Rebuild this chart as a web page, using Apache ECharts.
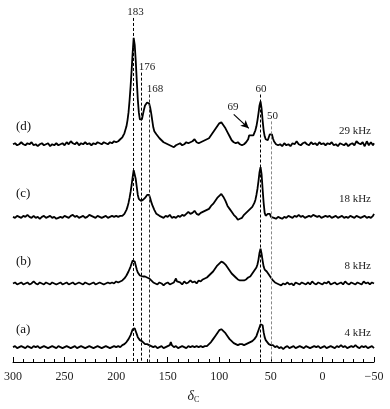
<!DOCTYPE html>
<html><head><meta charset="utf-8">
<script src="https://cdn.jsdelivr.net/npm/echarts@6/dist/echarts.min.js"></script>
<style>html,body{margin:0;padding:0;background:#fff}#c{width:390px;height:409px}</style>
</head><body><div id="c"></div>
<script>
// [chemical shift δC (ppm), intensity above own baseline]
const traceA = [[300,0],[298,1],[296,-1],[294,0],[292,1],[290,0],[288,-1],[286,1],[284,0],[282,-1],[280,1],[278,0],[276,1],[274,-1],[272,0],[270,1],[268,0],[266,-1],[264,0],[262,1],[260,0],[258,-1],[256,1],[254,0],[252,-1],[250,0],[248,1],[246,0],[244,-1],[242,0],[240,1],[238,-1],[236,0],[234,1],[232,0],[230,-1],[228,0],[226,1],[224,0],[222,-1],[220,0],[218,1],[216,0],[214,-1],[212,0],[210,1],[208,0],[206,-1],[204,0],[202,1],[200,0],[198,1],[196,0],[194,2],[192,3],[190,5],[189,6],[188,8],[187,10],[186,12],[185,15],[184,18],[183,20],[182,19],[181,16],[180,13],[179,10],[178,8],[177,7],[176,7],[175,6],[174,5],[172,3],[170,3],[168,2],[166,1],[164,0],[162,1],[160,-1],[158,0],[156,1],[154,-1],[152,0],[150,1],[148,2],[147,5],[146,2],[144,0],[142,1],[140,-1],[138,0],[136,1],[134,0],[132,-1],[130,1],[128,0],[126,1],[124,0],[122,1],[120,0],[118,1],[116,0],[114,1],[112,1],[110,3],[108,5],[106,8],[104,11],[102,14],[100,17],[98,18],[96,16],[94,14],[92,11],[90,8],[88,6],[86,4],[84,3],[82,2],[80,3],[78,3],[76,2],[74,3],[72,4],[70,5],[68,6],[66,8],[64,11],[63,14],[62,17],[61,20],[60,23],[59,25],[58,22],[57,15],[56,10],[55,7],[54,5],[52,3],[50,2],[48,2],[46,0],[44,1],[42,-1],[40,0],[38,-2],[36,0],[34,1],[32,-1],[30,0],[28,1],[26,-1],[24,0],[22,1],[20,0],[18,-1],[16,1],[14,0],[12,-1],[10,0],[8,1],[6,0],[4,1],[2,-1],[0,0],[-2,1],[-4,-1],[-6,0],[-8,1],[-10,0],[-12,-1],[-14,1],[-16,0],[-18,2],[-20,0],[-22,1],[-24,-1],[-26,0],[-28,1],[-30,0],[-32,2],[-34,0],[-36,-1],[-38,1],[-40,0],[-42,1],[-44,-1],[-46,0],[-48,1],[-50,-1]];
const traceB = [[300,0],[298,1],[296,-1],[294,0],[292,1],[290,-1],[288,0],[286,1],[284,-1],[282,0],[280,2],[278,0],[276,-1],[274,1],[272,0],[270,-1],[268,1],[266,0],[264,-1],[262,1],[260,0],[258,-1],[256,0],[254,1],[252,-1],[250,0],[248,1],[246,-1],[244,0],[242,1],[240,-1],[238,0],[236,1],[234,0],[232,-1],[230,1],[228,0],[226,-1],[224,0],[222,1],[220,-1],[218,0],[216,1],[214,0],[212,-1],[210,0],[208,1],[206,0],[204,1],[202,0],[200,2],[198,1],[196,2],[194,3],[192,5],[190,8],[189,10],[188,12],[187,14],[186,17],[185,20],[184,23],[183,25],[182,22],[181,18],[180,14],[179,11],[178,9],[177,8],[176,7],[174,7],[172,7],[170,6],[168,5],[166,3],[164,1],[162,0],[160,-1],[158,1],[156,0],[154,-2],[152,0],[150,1],[148,-1],[146,0],[144,1],[142,5],[141,2],[140,0],[138,1],[136,-1],[134,2],[132,0],[130,1],[128,3],[126,1],[124,2],[122,0],[120,3],[118,2],[116,4],[114,5],[112,6],[110,8],[108,10],[106,12],[104,15],[102,18],[100,20],[98,22],[96,21],[94,19],[92,16],[90,13],[88,10],[86,8],[84,6],[82,4],[80,3],[78,3],[76,3],[74,4],[72,6],[70,7],[68,10],[66,13],[64,16],[63,19],[62,24],[61,31],[60,35],[59,30],[58,23],[57,17],[56,14],[54,12],[52,9],[50,6],[48,3],[46,1],[44,0],[42,-1],[40,-2],[38,0],[36,-1],[34,1],[32,-1],[30,0],[28,-2],[26,1],[24,0],[22,-1],[20,1],[18,0],[16,-1],[14,1],[12,-1],[10,2],[8,0],[6,-1],[4,1],[2,0],[0,-1],[-2,1],[-4,0],[-6,2],[-8,-1],[-10,0],[-12,1],[-14,-1],[-16,0],[-18,1],[-20,-1],[-22,2],[-24,0],[-26,-1],[-28,1],[-30,0],[-32,-1],[-34,1],[-36,0],[-38,-1],[-40,2],[-42,0],[-44,1],[-46,-1],[-48,1],[-50,0]];
const traceC = [[300,0],[298,-1],[296,1],[294,0],[292,-1],[290,1],[288,0],[286,2],[284,0],[282,-1],[280,1],[278,-1],[276,0],[274,-2],[272,0],[270,1],[268,-1],[266,0],[264,1],[262,-1],[260,0],[258,-2],[256,-1],[254,0],[252,-1],[250,1],[248,0],[246,-1],[244,1],[242,2],[240,0],[238,1],[236,-1],[234,0],[232,1],[230,-1],[228,0],[226,2],[224,1],[222,0],[220,-1],[218,1],[216,0],[214,-1],[212,0],[210,1],[208,-1],[206,0],[204,1],[202,0],[200,1],[198,0],[196,1],[194,1],[192,3],[190,7],[189,10],[188,14],[187,19],[186,25],[185,32],[184,40],[183,47],[182,46],[181,38],[180,30],[179,22],[178,18],[177,16],[176,16],[175,16],[174,17],[173,18],[172,19],[171,21],[170,22],[169,23],[168,22],[167,19],[166,15],[165,12],[164,10],[163,7],[162,5],[161,3],[160,2],[158,1],[156,0],[154,-1],[152,1],[150,0],[148,2],[146,-1],[144,0],[142,-1],[140,1],[138,0],[136,2],[134,1],[132,3],[130,5],[128,3],[126,4],[124,6],[122,3],[120,2],[118,4],[116,5],[114,6],[112,7],[110,8],[108,11],[106,13],[104,16],[102,19],[100,21],[98,23],[97,22],[96,20],[94,16],[92,11],[90,8],[88,5],[86,2],[84,0],[82,-3],[80,-2],[78,-1],[76,2],[74,4],[72,6],[70,8],[68,10],[66,14],[65,17],[64,22],[63,28],[62,36],[61,45],[60,50],[59,43],[58,28],[57,14],[56,4],[55,1],[54,1],[53,3],[52,5],[51,3],[50,0],[49,-2],[47,-1],[45,-2],[43,0],[41,-1],[39,-2],[37,0],[35,-1],[33,1],[31,0],[29,-1],[27,1],[25,0],[23,2],[21,0],[19,1],[17,-1],[15,0],[13,1],[11,0],[9,2],[7,1],[5,0],[3,1],[1,-1],[-1,0],[-3,1],[-5,0],[-7,1],[-9,-1],[-11,0],[-13,1],[-15,-1],[-17,0],[-19,1],[-21,-1],[-23,0],[-25,-1],[-27,1],[-29,0],[-31,-1],[-33,1],[-35,0],[-37,-1],[-39,0],[-41,1],[-43,-1],[-45,0],[-47,-1],[-49,1],[-50,3]];
const traceD = [[300,0],[298,1],[296,-1],[294,0],[292,2],[290,0],[288,-1],[286,1],[284,0],[282,2],[280,-1],[278,0],[276,-2],[274,0],[272,1],[270,-1],[268,0],[266,1],[264,-2],[262,0],[260,-1],[258,1],[256,-1],[254,0],[252,1],[250,-1],[248,2],[246,0],[244,3],[242,1],[240,0],[238,2],[236,-1],[234,1],[232,0],[230,2],[228,0],[226,1],[224,-1],[222,1],[220,0],[218,2],[216,1],[214,0],[212,2],[210,1],[208,0],[206,2],[204,1],[202,3],[200,2],[198,3],[196,5],[194,7],[192,11],[190,18],[189,24],[188,32],[187,44],[186,58],[185,74],[184,92],[183,107],[182,100],[181,84],[180,64],[179,45],[178,32],[177,25],[176,23],[175,25],[174,30],[173,35],[172,39],[171,41],[170,42],[169,42],[168,41],[167,37],[166,31],[165,24],[164,17],[163,13],[162,11],[161,10],[160,8],[158,6],[156,4],[154,2],[152,1],[150,0],[148,-1],[146,-2],[144,-3],[142,-1],[140,0],[138,1],[136,-1],[134,0],[132,2],[130,1],[128,2],[126,3],[124,5],[122,2],[120,1],[118,2],[116,3],[114,4],[112,5],[110,6],[108,9],[106,12],[104,15],[102,18],[100,21],[99,22],[98,22],[97,21],[96,19],[94,16],[92,12],[90,8],[88,4],[86,2],[84,1],[82,2],[80,0],[78,-1],[76,0],[74,2],[72,5],[71,9],[70,10],[69,9],[68,8],[67,9],[66,11],[65,14],[64,18],[63,24],[62,31],[61,39],[60,43],[59,36],[58,24],[57,14],[56,8],[55,5],[54,3],[53,4],[52,7],[51,10],[50,12],[49,10],[48,6],[47,3],[46,1],[45,0],[43,-1],[41,0],[39,-2],[37,1],[35,-1],[33,0],[31,-2],[29,1],[27,0],[25,3],[23,0],[21,-1],[19,1],[17,2],[15,0],[13,-1],[11,2],[9,0],[7,1],[5,-1],[3,2],[1,0],[-1,1],[-3,-1],[-5,1],[-7,0],[-9,2],[-11,-1],[-13,0],[-15,-2],[-17,1],[-19,0],[-21,-1],[-23,1],[-25,-2],[-27,0],[-29,1],[-31,-1],[-33,3],[-35,1],[-37,0],[-39,2],[-41,-2],[-43,3],[-45,-1],[-47,2],[-49,-1],[-50,1]];

const traces = [traceA, traceB, traceC, traceD];
const traceOffsets = [15, 79, 146, 219];
const traceNames = ['(a)', '(b)', '(c)', '(d)'];
const spinRates = ['4 kHz', '8 kHz', '18 kHz', '29 kHz'];
const peakShifts = [183, 176, 168, 60, 50];
const peakLabels = ['183', '176', '168', '60', '50'];
const peakLineTops = [346, 291, 269, 269, 242];
const arrowLabel = '69';
const arrowFrom = [86, 249];
const arrowTo = [71.4, 235];

const FONT = '"Liberation Serif","Times New Roman",serif';
const chart = echarts.init(document.getElementById('c'), null, {renderer: 'canvas'});

const lineColors = ['#000', '#000', '#333', '#000', '#888'];
const series = traces.map((t, i) => ({
  type: 'line', name: traceNames[i], showSymbol: false, symbol: 'none',
  data: t.map(p => [p[0], p[1] + traceOffsets[i]]),
  lineStyle: {color: '#000', width: 1.8}, z: 3, silent: true
}));
series.push({
  type: 'line', data: [], silent: true,
  markLine: {
    silent: true, symbol: ['none', 'none'], animation: false,
    label: {show: false},
    data: peakShifts.map((s, i) => [
      {coord: [s, peakLineTops[i]], lineStyle: {color: lineColors[i], type: [3, 2], width: 1}},
      {coord: [s, 0]}
    ]).concat([[
      {coord: arrowFrom, lineStyle: {color: '#000', type: 'solid', width: 1.2}, symbol: 'none'},
      {coord: arrowTo, symbol: 'arrow', symbolSize: [6, 8]}
    ]])
  }
});

const labelPx = [[135.5, 12], [147, 67], [155, 89], [261, 89], [272.5, 116]];
const graphics = [];
peakLabels.forEach((t, i) => graphics.push({type: 'text', x: labelPx[i][0], y: labelPx[i][1],
  style: {text: t, font: '11px ' + FONT, fill: '#222', textAlign: 'center', textVerticalAlign: 'middle'}}));
graphics.push({type: 'text', x: 233, y: 107, style: {text: arrowLabel, font: '11px ' + FONT, fill: '#222', textAlign: 'center', textVerticalAlign: 'middle'}});
const nameY = [330, 262, 194, 127];
const rateY = [333, 266, 199, 131];
traceNames.forEach((t, i) => graphics.push({type: 'text', x: 16, y: nameY[i],
  style: {text: t, font: '13px ' + FONT, fill: '#111', textAlign: 'left', textVerticalAlign: 'middle'}}));
spinRates.forEach((t, i) => graphics.push({type: 'text', x: 371, y: rateY[i],
  style: {text: t, font: '11px ' + FONT, fill: '#222', textAlign: 'right', textVerticalAlign: 'middle'}}));

chart.setOption({
  animation: false,
  backgroundColor: '#fff',
  grid: {left: 13, right: 16, top: 10, bottom: 45, containLabel: false},
  xAxis: {
    type: 'value', inverse: true, min: -50, max: 300, interval: 50,
    axisLine: {show: true, lineStyle: {color: '#000', width: 1}},
    axisTick: {show: true, inside: true, length: 5, lineStyle: {color: '#000'}},
    minorTick: {show: true, splitNumber: 5, length: 3, lineStyle: {color: '#000'}},
    splitLine: {show: false},
    axisLabel: {color: '#222', fontFamily: FONT, fontSize: 12, margin: 9,
      formatter: v => (v < 0 ? '\u2212' + (-v) : String(v))},
    name: '{d|δ}{s|C}', nameLocation: 'middle', nameGap: 26,
    nameTextStyle: {rich: {
      d: {fontFamily: FONT, fontStyle: 'italic', fontSize: 14, color: '#222'},
      s: {fontFamily: FONT, fontSize: 8, color: '#222', padding: [8, 0, 0, 0]}
    }}
  },
  yAxis: {type: 'value', min: 0, max: 354, show: false},
  series: series,
  graphic: graphics
});
</script></body></html>
